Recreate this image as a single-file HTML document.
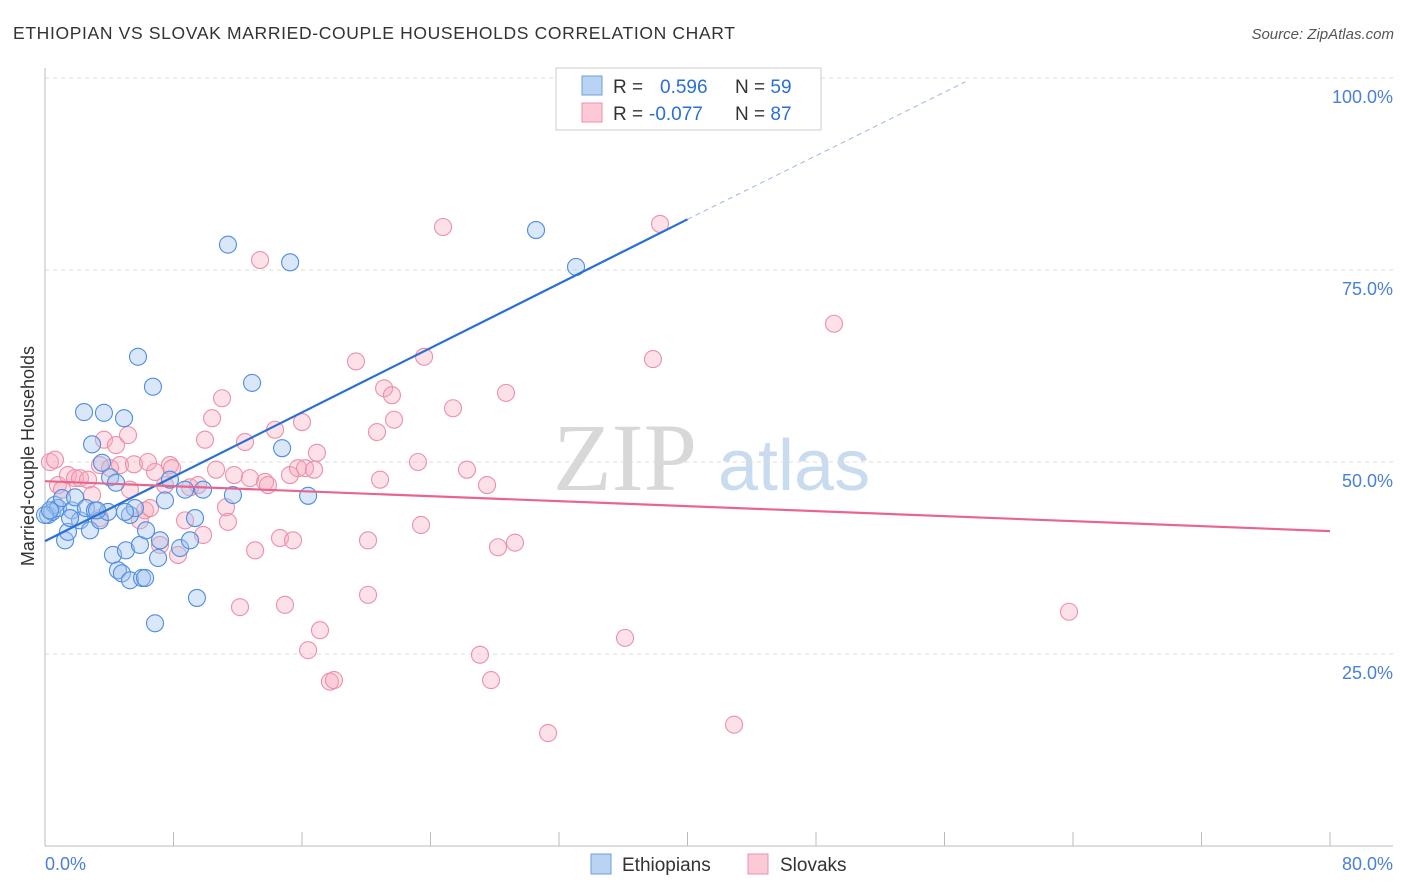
<!DOCTYPE html>
<html><head><meta charset="utf-8">
<style>
body{margin:0;background:#fff;font-family:"Liberation Sans",sans-serif;}
svg{display:block}
</style></head>
<body>
<svg id="chart" width="1406" height="892" xmlns="http://www.w3.org/2000/svg" font-family="Liberation Sans, sans-serif">
<text x="13" y="39" font-size="17.5" fill="#333" letter-spacing="0.65">ETHIOPIAN VS SLOVAK MARRIED-COUPLE HOUSEHOLDS CORRELATION CHART</text>
<text x="1394" y="39" font-size="15" fill="#555" font-style="italic" text-anchor="end">Source: ZipAtlas.com</text>
<g>
<text x="553" y="490" font-size="96" fill="#d8d8d8" font-family="Liberation Serif, serif">ZIP</text>
<text x="718" y="490" font-size="72" fill="#c9dcef">atlas</text>
</g>
<g id="grid"></g>
<g id="axes"></g>
<g id="marks"></g>
<text transform="translate(34,456) rotate(-90)" font-size="18" fill="#333" text-anchor="middle">Married-couple Households</text>
<g>
<rect x="556" y="68" width="265" height="62" fill="#fff" stroke="#ccc"/>
<rect x="582" y="76" width="20" height="19" fill="#b9d3f3" stroke="#6a9fe0"/>
<rect x="582" y="103" width="20" height="19" fill="#fbcad6" stroke="#ec90aa"/>
<text x="613" y="93" font-size="19" fill="#333">R = </text>
<text x="660" y="93" font-size="19" fill="#2a6fd6">0.596</text>
<text x="735" y="93" font-size="19" fill="#333">N = <tspan fill="#2a6fd6">59</tspan></text>
<text x="613" y="120" font-size="19" fill="#333">R = </text>
<text x="649" y="120" font-size="19" fill="#2a6fd6">-0.077</text>
<text x="735" y="120" font-size="19" fill="#333">N = <tspan fill="#2a6fd6">87</tspan></text>
</g>
<g>
<rect x="591" y="854" width="20" height="20" fill="#b9d3f3" stroke="#6a9fe0"/>
<text x="622" y="871" font-size="19" fill="#333">Ethiopians</text>
<rect x="748" y="854" width="20" height="20" fill="#fbcad6" stroke="#ec90aa"/>
<text x="780" y="871" font-size="19" fill="#333">Slovaks</text>
</g>
</svg>
<script>
const blueX=[0.19,0.44,0.62,0.81,1.06,1.25,1.43,1.68,1.87,2.18,2.43,2.55,2.80,2.93,3.11,3.42,3.55,3.67,3.92,4.05,4.23,4.42,4.54,4.79,4.92,5.04,5.29,5.29,5.60,5.79,5.91,6.04,6.23,6.29,6.72,6.85,7.04,7.16,7.47,7.78,8.41,8.72,9.03,9.34,9.46,9.84,11.39,11.70,12.89,14.76,15.26,16.38,30.57,33.06,0,0.31,1.56,3.24,4.98];
const blueY=[43.1,43.5,44.4,44.0,45.3,39.8,40.9,43.7,45.4,42.4,56.5,44.0,41.1,52.3,43.7,42.4,49.9,56.4,43.5,48.0,37.9,47.3,35.9,35.5,55.7,38.5,34.6,43.1,44.0,63.7,39.2,34.9,34.9,41.1,59.8,29.0,37.5,39.8,45.0,47.7,38.8,46.4,39.8,42.7,32.3,46.4,78.3,45.7,60.3,51.8,76.0,45.6,80.2,75.4,43.1,43.7,42.7,43.7,43.5];
const pinkX=[0.31,0.62,0.81,1.06,1.43,1.87,2.18,2.68,2.93,3.42,3.67,4.05,4.42,4.67,5.29,5.54,5.91,6.23,6.54,6.85,7.16,7.47,7.78,7.91,8.28,8.72,9.03,9.53,9.84,9.96,10.40,10.65,11.02,11.27,11.39,11.77,12.14,12.45,12.76,13.08,13.39,13.70,13.88,14.32,14.63,14.94,15.25,15.44,15.75,16.00,16.19,16.38,16.75,16.93,17.12,17.74,17.99,19.36,20.11,20.11,20.67,20.86,21.11,21.60,21.73,23.22,23.41,23.60,24.78,25.40,26.27,27.08,27.52,27.77,28.20,28.70,29.26,31.32,36.11,37.85,38.29,42.90,49.12,63.75,5.17,6.41,3.42];
const pinkY=[50.0,50.3,47.0,46.4,48.3,47.9,47.9,47.7,45.7,49.6,52.9,49.2,52.2,49.6,46.4,49.7,42.4,43.7,44.0,48.7,39.2,47.0,49.6,49.2,37.9,42.4,46.7,47.0,40.5,52.9,55.7,49.0,58.3,44.1,42.2,48.3,31.1,52.6,47.9,38.5,76.3,47.4,47.0,54.2,40.1,31.4,48.3,39.8,49.2,55.2,49.2,25.5,49.0,51.2,28.1,21.4,21.6,63.1,39.8,32.7,53.9,47.7,59.6,58.7,55.5,50.0,41.8,63.7,80.6,57.0,49.0,24.9,47.0,21.6,38.9,59.0,39.5,14.7,27.1,63.4,81.0,15.8,68.0,30.5,53.5,50.0,42.7];
const yTicks=[25,50,75,100];
const yTickLabels=["25.0%","50.0%","75.0%","100.0%"];
const xTicks=[0,8,16,24,32,40,48,56,64,72,80];
const blueTrend=[0,39.7,40,81.6,57.3,99.5];
const pinkTrend=[0,47.5,80,41.0];

const NS="http://www.w3.org/2000/svg";
const X=v=>45+v/80*1285;
const Y=v=>846-v/100*768;
function mk(parent,tag,attrs){const e=document.createElementNS(NS,tag);for(const k in attrs)e.setAttribute(k,attrs[k]);document.getElementById(parent).appendChild(e);return e;}
yTicks.forEach((t,i)=>{
  const l=mk('grid','line',{x1:45,x2:1393,y1:Y(t),y2:Y(t),stroke:'#ddd','stroke-dasharray':'4,4'});
  
  
  const tx=mk('grid','text',{x:1393,y:Y(t)+25,'font-size':18,fill:'#4a80d6','text-anchor':'end'});
  tx.textContent=yTickLabels[i];
  
  
});
const ax=mk('axes','line',{x1:45,x2:45,y1:68,y2:846,stroke:'#bbb'});


const bx=mk('axes','line',{x1:45,x2:1393,y1:846,y2:846,stroke:'#bbb'});


xTicks.forEach(t=>{
  const l=mk('axes','line',{x1:X(t),x2:X(t),y1:832,y2:846,stroke:'#bbb'});
  
  
});
const x0=mk('axes','text',{x:45,y:870,'font-size':18,fill:'#4a80d6'});x0.textContent=xTicks[0].toFixed(1)+'%';


const x1=mk('axes','text',{x:1393,y:870,'font-size':18,fill:'#4a80d6','text-anchor':'end'});x1.textContent=xTicks[xTicks.length-1].toFixed(1)+'%';


pinkX.forEach((v,i)=>{
  const c=mk('marks','circle',{cx:X(v),cy:Y(pinkY[i]),r:8.5,fill:'rgba(246,168,190,0.35)',stroke:'#ec90aa','stroke-width':1.1});
  
  
});
blueX.forEach((v,i)=>{
  const c=mk('marks','circle',{cx:X(v),cy:Y(blueY[i]),r:8.5,fill:'rgba(160,196,240,0.4)',stroke:'#4f8de0','stroke-width':1.1});
  
  
});
const bt=mk('marks','line',{x1:X(blueTrend[0]),y1:Y(blueTrend[1]),x2:X(blueTrend[2]),y2:Y(blueTrend[3]),stroke:'#2a6fd6','stroke-width':2.2});


const bd=mk('marks','line',{x1:X(blueTrend[2]),y1:Y(blueTrend[3]),x2:X(blueTrend[4]),y2:Y(blueTrend[5]),stroke:'#9bb8e0','stroke-width':1,'stroke-dasharray':'5,4'});


const pt=mk('marks','line',{x1:X(pinkTrend[0]),y1:Y(pinkTrend[1]),x2:X(pinkTrend[2]),y2:Y(pinkTrend[3]),stroke:'#e8668e','stroke-width':2.2});


</script>
</body></html>
